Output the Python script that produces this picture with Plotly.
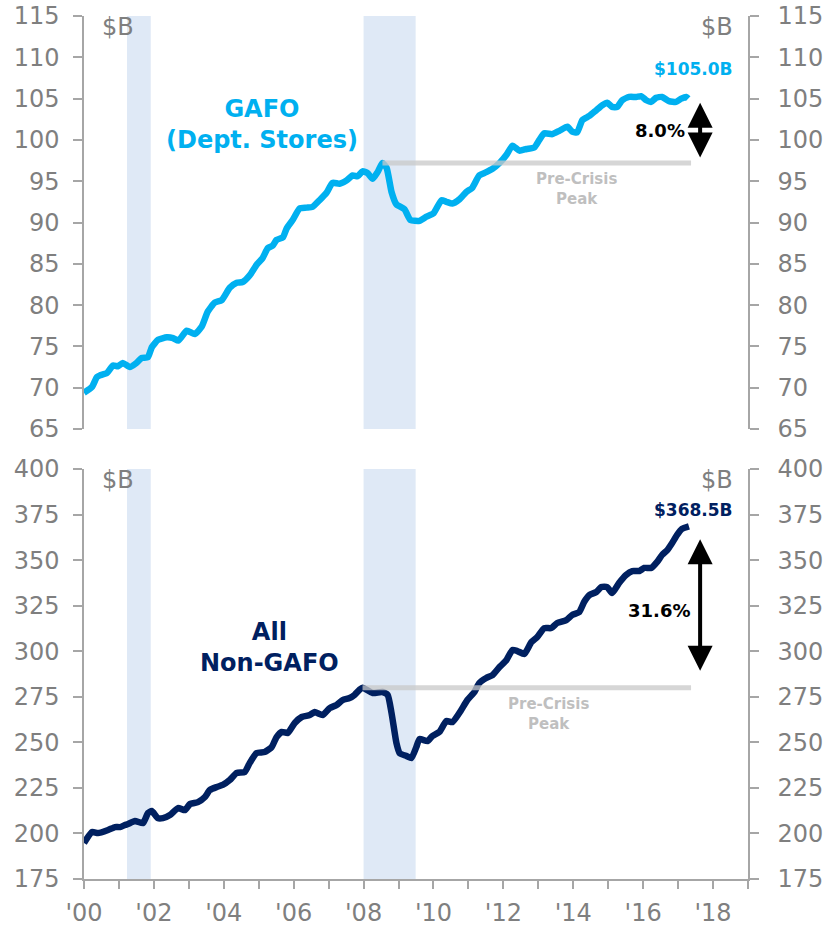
import plotly.graph_objects as go

# ---------------- data ----------------
gafo_t = [2000.0, 2000.23, 2000.37, 2000.46, 2000.66, 2000.83, 2000.97, 2001.11, 2001.31, 2001.5,
          2001.65, 2001.83, 2001.94, 2002.12, 2002.37, 2002.55, 2002.7, 2002.94, 2003.17, 2003.37,
          2003.54, 2003.74, 2003.94, 2004.17, 2004.37, 2004.54, 2004.74, 2004.94, 2005.11, 2005.26,
          2005.4, 2005.51, 2005.69, 2005.8, 2005.97, 2006.17, 2006.37, 2006.54, 2006.74, 2006.94,
          2007.11, 2007.31, 2007.51, 2007.69, 2007.83, 2007.97, 2008.11, 2008.26, 2008.4, 2008.54,
          2008.66, 2008.8, 2008.94, 2009.17, 2009.34, 2009.6, 2009.8, 2010.0, 2010.23, 2010.37,
          2010.54, 2010.74, 2010.94, 2011.11, 2011.31, 2011.51, 2011.69, 2011.89, 2012.09, 2012.26,
          2012.46, 2012.66, 2012.89, 2013.03, 2013.17, 2013.4, 2013.6, 2013.83, 2013.97, 2014.11,
          2014.26, 2014.46, 2014.66, 2014.83, 2014.97, 2015.11, 2015.26, 2015.4, 2015.6, 2015.8,
          2015.94, 2016.09, 2016.23, 2016.37, 2016.54, 2016.74, 2016.94, 2017.09, 2017.23, 2017.29]
gafo_v = [69.4, 70.1, 71.3, 71.5, 71.8, 72.7, 72.6, 73.0, 72.5, 73.0,
          73.6, 73.7, 74.9, 75.8, 76.1, 76.0, 75.7, 76.9, 76.5, 77.4,
          79.2, 80.3, 80.6, 82.1, 82.7, 82.8, 83.6, 84.9, 85.7, 86.9,
          87.2, 87.9, 88.2, 89.3, 90.3, 91.7, 91.8, 91.9, 92.7, 93.6,
          94.8, 94.7, 95.1, 95.7, 95.6, 96.2, 96.0, 95.3, 96.1, 97.2,
          96.6, 93.7, 92.2, 91.6, 90.3, 90.2, 90.7, 91.1, 92.7, 92.5,
          92.3, 92.8, 93.7, 94.2, 95.7, 96.1, 96.5, 97.2, 98.2, 99.3,
          98.7, 98.9, 99.1, 100.0, 100.8, 100.7, 101.1, 101.6, 101.0, 100.9,
          102.4, 102.9, 103.6, 104.2, 104.5, 104.0, 104.0, 104.8, 105.2, 105.2,
          105.3, 104.8, 104.6, 105.1, 105.2, 104.7, 104.6, 105.0, 105.2, 105.0]

nongafo_t = [2000.0, 2000.23, 2000.4, 2000.69, 2000.89, 2001.03, 2001.17, 2001.26, 2001.46, 2001.69,
             2001.83, 2001.94, 2002.11, 2002.26, 2002.46, 2002.69, 2002.89, 2003.03, 2003.26, 2003.46,
             2003.6, 2003.8, 2003.97, 2004.17, 2004.37, 2004.6, 2004.74, 2004.94, 2005.17, 2005.37,
             2005.51, 2005.66, 2005.83, 2006.03, 2006.23, 2006.46, 2006.6, 2006.83, 2007.03, 2007.23,
             2007.4, 2007.6, 2007.74, 2007.89, 2007.97, 2008.26, 2008.54, 2008.69, 2008.8, 2008.94,
             2009.03, 2009.23, 2009.37, 2009.51, 2009.6, 2009.83, 2009.97, 2010.17, 2010.37, 2010.54,
             2010.74, 2010.97, 2011.17, 2011.31, 2011.51, 2011.69, 2011.89, 2012.09, 2012.26, 2012.4,
             2012.6, 2012.8, 2012.97, 2013.17, 2013.37, 2013.54, 2013.8, 2013.97, 2014.17, 2014.31,
             2014.46, 2014.66, 2014.8, 2014.97, 2015.11, 2015.31, 2015.51, 2015.69, 2015.89, 2016.03,
             2016.23, 2016.4, 2016.54, 2016.69, 2016.83, 2016.97, 2017.11, 2017.31]
nongafo_v = [194.7, 200.8, 200.2, 201.9, 203.5, 203.5, 204.6, 205.2, 206.8, 205.7,
             211.2, 212.3, 208.4, 208.4, 210.1, 213.9, 212.8, 216.1, 217.2, 220.0,
             223.8, 225.5, 226.6, 229.3, 233.2, 233.7, 238.6, 244.1, 244.7, 247.4,
             252.9, 255.7, 255.1, 260.6, 263.9, 265.0, 266.6, 265.0, 268.8, 270.5,
             273.2, 274.3, 276.0, 279.0, 280.0, 277.1, 277.6, 276.0, 266.1, 249.6,
             244.1, 242.5, 241.4, 247.4, 251.8, 250.7, 253.5, 255.7, 261.7, 261.1,
             266.1, 273.2, 277.6, 282.5, 285.3, 286.9, 291.3, 295.2, 300.7, 300.1,
             298.5, 305.0, 307.8, 312.7, 312.7, 315.5, 317.1, 319.9, 321.5, 327.0,
             330.8, 332.5, 335.2, 335.2, 331.9, 337.4, 341.8, 344.0, 344.0, 345.7,
             345.7, 349.0, 352.8, 355.5, 359.4, 363.8, 367.1, 368.5]

recession_start = [2001.23, 2008.0]
recession_end = [2001.91, 2009.49]

peak_line_end = 2017.37
x_tick_years = list(range(2000, 2020))
x_tick_text = ["'%02d" % (y % 100) if y % 2 == 0 and y <= 2018 else "" for y in x_tick_years]

# ---------------- styling ----------------
FONT = "DejaVu Sans"
CYAN = "#00B0F0"
NAVY = "#002060"
GRAY_TXT = "#7f7f7f"
AXIS_GRAY = "#a6a6a6"
PEAK_GRAY = "rgba(200,200,200,0.75)"
REC_FILL = "#dfe9f6"


def pre_crisis_peak(t, v):
    pairs = [(vv, tt) for tt, vv in zip(t, v) if tt < 2009]
    pv, pt = max(pairs)
    return pt, pv


g_pt, g_pv = pre_crisis_peak(gafo_t, gafo_v)
n_pt, n_pv = pre_crisis_peak(nongafo_t, nongafo_v)
g_pct = (gafo_v[-1] / g_pv - 1) * 100
n_pct = (nongafo_v[-1] / n_pv - 1) * 100

LINE_KW = dict(width=6.5, shape="spline", smoothing=0.5)

fig = go.Figure()

# top panel
fig.add_trace(go.Scatter(x=gafo_t, y=gafo_v, mode="lines", xaxis="x", yaxis="y",
                         line=dict(color=CYAN, **LINE_KW), hoverinfo="x+y", showlegend=False))
fig.add_trace(go.Scatter(x=[g_pt, peak_line_end], y=[g_pv, g_pv], mode="lines", xaxis="x", yaxis="y",
                         line=dict(color=PEAK_GRAY, width=5), hoverinfo="skip", showlegend=False))
fig.add_trace(go.Scatter(x=[gafo_t[0]], y=[gafo_v[0]], mode="markers", xaxis="x", yaxis="y3",
                         opacity=0, hoverinfo="skip", showlegend=False))
# bottom panel
fig.add_trace(go.Scatter(x=nongafo_t, y=nongafo_v, mode="lines", xaxis="x2", yaxis="y2",
                         line=dict(color=NAVY, **LINE_KW), hoverinfo="x+y", showlegend=False))
fig.add_trace(go.Scatter(x=[n_pt, peak_line_end], y=[n_pv, n_pv], mode="lines", xaxis="x2", yaxis="y2",
                         line=dict(color=PEAK_GRAY, width=5), hoverinfo="skip", showlegend=False))
fig.add_trace(go.Scatter(x=[nongafo_t[0]], y=[nongafo_v[0]], mode="markers", xaxis="x2", yaxis="y4",
                         opacity=0, hoverinfo="skip", showlegend=False))

shapes = []
for s, e in zip(recession_start, recession_end):
    for xr, yr in (("x", "y domain"), ("x2", "y2 domain")):
        shapes.append(dict(type="rect", xref=xr, yref=yr, x0=s, x1=e, y0=0, y1=1,
                           fillcolor=REC_FILL, line=dict(width=0), layer="below"))

yax_common = dict(showline=True, linecolor=AXIS_GRAY, linewidth=1.5, ticks="outside", ticklen=9,
                  tickcolor=AXIS_GRAY, tickwidth=1.5, showgrid=False, zeroline=False, automargin=False,
                  tickfont=dict(family=FONT, size=24, color=GRAY_TXT))

TOP_DOM = [0.5214, 1.0]
BOT_DOM = [0.0, 0.4751]

fig.update_layout(
    width=823, height=927,
    margin=dict(l=84, r=75, t=16, b=48, autoexpand=False),
    paper_bgcolor="white", plot_bgcolor="white",
    font=dict(family=FONT, color=GRAY_TXT),
    shapes=shapes,
    xaxis=dict(domain=[0, 1], anchor="y", range=[2000, 2019], showline=False, showticklabels=False,
               ticks="", showgrid=False, zeroline=False, automargin=False),
    yaxis=dict(domain=TOP_DOM, anchor="x", range=[65, 115], tick0=65, dtick=5, side="left",
               ticklabelstandoff=9, **yax_common),
    yaxis3=dict(overlaying="y", anchor="x", side="right", range=[65, 115], tick0=65, dtick=5,
                ticklabelstandoff=14, **yax_common),
    xaxis2=dict(domain=[0, 1], anchor="y2", range=[2000, 2019], showline=True, linecolor=AXIS_GRAY,
                linewidth=1.5, ticks="outside", ticklen=8, tickcolor=AXIS_GRAY, tickwidth=1.5,
                tickmode="array", tickvals=x_tick_years, ticktext=x_tick_text, showgrid=False,
                zeroline=False, automargin=False, ticklabelstandoff=3,
                tickfont=dict(family=FONT, size=24, color=GRAY_TXT)),
    yaxis2=dict(domain=BOT_DOM, anchor="x2", range=[175, 400], tick0=175, dtick=25, side="left",
                ticklabelstandoff=9, **yax_common),
    yaxis4=dict(overlaying="y2", anchor="x2", side="right", range=[175, 400], tick0=175, dtick=25,
                ticklabelstandoff=14, **yax_common),
)

ann = []
# $B unit labels
for xr, yr in (("x domain", "y domain"), ("x2 domain", "y2 domain")):
    ann.append(dict(xref=xr, yref=yr, x=0.024, y=0.973, text="$B", showarrow=False,
                    xanchor="left", yanchor="middle", font=dict(family=FONT, size=24, color=GRAY_TXT)))
    ann.append(dict(xref=xr, yref=yr, x=0.98, y=0.973, text="$B", showarrow=False,
                    xanchor="right", yanchor="middle", font=dict(family=FONT, size=24, color=GRAY_TXT)))
# series titles
ann.append(dict(xref="x", yref="y", x=2005.1, y=101.9, text="<b>GAFO<br>(Dept. Stores)</b>", showarrow=False,
                xanchor="center", yanchor="middle", font=dict(family=FONT, size=24, color=CYAN)))
ann.append(dict(xref="x2", yref="y2", x=2005.3, y=301.8, text="<b>All<br>Non-GAFO</b>", showarrow=False,
                xanchor="center", yanchor="middle", font=dict(family=FONT, size=24, color=NAVY)))
# last values
ann.append(dict(xref="x", yref="y", x=gafo_t[-1], y=gafo_v[-1], text="<b>$%.1fB</b>" % gafo_v[-1],
                showarrow=False, xanchor="center", yanchor="middle", xshift=5, yshift=30,
                font=dict(family=FONT, size=17, color=CYAN)))
ann.append(dict(xref="x2", yref="y2", x=nongafo_t[-1], y=nongafo_v[-1], text="<b>$%.1fB</b>" % nongafo_v[-1],
                showarrow=False, xanchor="center", yanchor="middle", xshift=5, yshift=16,
                font=dict(family=FONT, size=17, color=NAVY)))
# pre-crisis peak labels
ann.append(dict(xref="x", yref="y", x=2014.09, y=g_pv, text="<b>Pre-Crisis<br>Peak</b>", showarrow=False,
                xanchor="center", yanchor="top", yshift=-5, font=dict(family=FONT, size=15, color="#bfbfbf")))
ann.append(dict(xref="x2", yref="y2", x=2013.29, y=n_pv, text="<b>Pre-Crisis<br>Peak</b>", showarrow=False,
                xanchor="center", yanchor="top", yshift=-5, font=dict(family=FONT, size=15, color="#bfbfbf")))
# double arrows
ARROW_X = 2017.63
ann.append(dict(xref="x", yref="y", axref="x", ayref="y", x=ARROW_X, y=gafo_v[-1] - 0.5,
                ax=ARROW_X, ay=g_pv + 0.5, text="", showarrow=True, arrowhead=2, startarrowhead=2,
                arrowside="end+start", arrowwidth=4, arrowsize=1.25, startarrowsize=1.25, arrowcolor="black"))
ann.append(dict(xref="x2", yref="y2", axref="x2", ayref="y2", x=ARROW_X, y=nongafo_v[-1] - 7,
                ax=ARROW_X, ay=n_pv + 8.5, text="", showarrow=True, arrowhead=2, startarrowhead=2,
                arrowside="end+start", arrowwidth=4, arrowsize=1.25, startarrowsize=1.25, arrowcolor="black"))
ann.append(dict(xref="x", yref="y", x=ARROW_X, y=(gafo_v[-1] + g_pv) / 2, text="<b>%.1f%%</b>" % g_pct,
                showarrow=False, xanchor="right", xshift=-13, yanchor="middle",
                font=dict(family=FONT, size=18, color="black")))
ann.append(dict(xref="x2", yref="y2", x=ARROW_X, y=(nongafo_v[-1] + n_pv) / 2, text="<b>%.1f%%</b>" % n_pct,
                showarrow=False, xanchor="right", xshift=-8, yanchor="middle", yshift=-3,
                font=dict(family=FONT, size=18, color="black")))

fig.update_layout(annotations=ann)
fig.write_html("out.html", config={"displayModeBar": False},
               post_script="document.body.style.margin='0px';")
